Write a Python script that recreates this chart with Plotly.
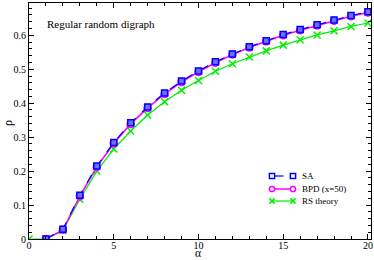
import plotly.graph_objects as go

alpha_rs = list(range(0, 21))
rs_theory = [0.0, 0.0, 0.025, 0.117, 0.200, 0.265, 0.318, 0.365, 0.404, 0.438, 0.467,
             0.494, 0.516, 0.536, 0.554, 0.571, 0.587, 0.601, 0.613, 0.626, 0.636]

alpha = list(range(1, 21))
sa = [0.0, 0.029, 0.129, 0.215, 0.284, 0.342, 0.389, 0.430, 0.465, 0.495,
      0.522, 0.545, 0.566, 0.584, 0.602, 0.617, 0.631, 0.645, 0.658, 0.669]
bpd = [0.0, 0.027, 0.126, 0.212, 0.281, 0.339, 0.386, 0.427, 0.462, 0.492,
       0.519, 0.543, 0.564, 0.582, 0.600, 0.615, 0.629, 0.643, 0.656, 0.667]

legend_names = ["SA", "BPD (x=50)", "RS theory"]

font = "Liberation Serif"
BLUE, MAG, GREEN = "#0000ff", "#ff00ff", "#00ee00"

W, H = 374, 260
ML, MR, MT, MB = 29, 3, 3, 21
PW, PH = W - ML - MR, H - MT - MB

fig = go.Figure()
fig.add_trace(go.Scatter(x=alpha_rs, y=rs_theory, mode="lines+markers", name=legend_names[2],
                         line=dict(color=GREEN, width=1.2),
                         marker=dict(symbol="x-thin-open", size=7, line=dict(color=GREEN, width=1.5))))
fig.add_trace(go.Scatter(x=alpha, y=bpd, mode="lines+markers", name=legend_names[1],
                         line=dict(color=MAG, width=1.5),
                         marker=dict(symbol="circle-open", size=7, line=dict(color=MAG, width=1.5))))
fig.add_trace(go.Scatter(x=alpha, y=sa, mode="lines+markers", name=legend_names[0],
                         line=dict(color=BLUE, width=1.2, dash="dash"),
                         marker=dict(symbol="square", size=6, color="#7070ff",
                                     line=dict(color=BLUE, width=1.5))))

fig.add_annotation(text="Regular random digraph", xref="paper", yref="paper",
                   x=(45 - ML) / PW, y=(MT + PH - 24) / PH, xanchor="left", yanchor="middle",
                   showarrow=False, font=dict(family=font, size=11, color="black"))

def px(x):
    return (x - ML) / PW

def py(y):
    return (MT + PH - y) / PH

# axis titles
fig.add_annotation(text="α", xref="paper", yref="paper", x=px(198), y=py(253),
                   xanchor="center", yanchor="middle", showarrow=False, borderpad=0,
                   font=dict(family=font, size=11.5, color="black"))
fig.add_annotation(text="ρ", xref="paper", yref="paper", x=px(8), y=py(123),
                   xanchor="center", yanchor="middle", showarrow=False, textangle=-90,
                   font=dict(family=font, size=12, color="black"))

# custom legend (xmgrace style: symbol at both ends of line sample)
leg_x0, leg_x1, text_x = 272, 293, 300
rows = [176, 189, 201]
r = 2.6
y = rows[0]
fig.add_shape(type="line", xref="paper", yref="paper", x0=px(leg_x0 + r), x1=px(leg_x1 - r),
              y0=py(y), y1=py(y), line=dict(color=BLUE, width=1.2, dash="dash"))
for cx in (leg_x0, leg_x1):
    fig.add_shape(type="rect", xref="paper", yref="paper", x0=px(cx - r), x1=px(cx + r),
                  y0=py(y - r), y1=py(y + r), line=dict(color=BLUE, width=1.5))
y = rows[1]
fig.add_shape(type="line", xref="paper", yref="paper", x0=px(leg_x0 + r), x1=px(leg_x1 - r),
              y0=py(y), y1=py(y), line=dict(color=MAG, width=1.5))
for cx in (leg_x0, leg_x1):
    fig.add_shape(type="circle", xref="paper", yref="paper", x0=px(cx - r), x1=px(cx + r),
                  y0=py(y - r), y1=py(y + r), line=dict(color=MAG, width=1.5))
y = rows[2]
fig.add_shape(type="line", xref="paper", yref="paper", x0=px(leg_x0), x1=px(leg_x1),
              y0=py(y), y1=py(y), line=dict(color=GREEN, width=1.2))
for cx in (leg_x0, leg_x1):
    fig.add_shape(type="line", xref="paper", yref="paper", x0=px(cx - r), x1=px(cx + r),
                  y0=py(y - r), y1=py(y + r), line=dict(color=GREEN, width=1.5))
    fig.add_shape(type="line", xref="paper", yref="paper", x0=px(cx - r), x1=px(cx + r),
                  y0=py(y + r), y1=py(y - r), line=dict(color=GREEN, width=1.5))
for name, y in zip(legend_names, rows):
    fig.add_annotation(text=name, xref="paper", yref="paper", x=px(text_x), y=py(y),
                       xanchor="left", yanchor="middle", showarrow=False,
                       font=dict(family=font, size=9, color="black"))

axis_common = dict(showline=True, linecolor="black", linewidth=1.2, mirror="ticks",
                   ticks="inside", ticklen=5, tickwidth=1.2, tickcolor="black",
                   showgrid=False, zeroline=False, automargin=False,
                   tickfont=dict(family=font, size=10, color="black"))

fig.update_xaxes(range=[0, 20.18], tick0=0, dtick=5, ticklabelstandoff=-3,
                 minor=dict(ticks="inside", ticklen=3, dtick=1, tickcolor="black", tickwidth=1),
                 **axis_common)
fig.update_yaxes(range=[0, 0.695], tick0=0, dtick=0.1,
                 minor=dict(ticks="inside", ticklen=3, dtick=0.02, tickcolor="black", tickwidth=1),
                 **axis_common)

fig.update_layout(width=W, height=H, margin=dict(l=ML, r=MR, t=MT, b=MB),
                  plot_bgcolor="white", paper_bgcolor="white",
                  showlegend=False)

fig.write_html("out.html", post_script="document.body.style.margin='0';",
               config={"displayModeBar": False})
